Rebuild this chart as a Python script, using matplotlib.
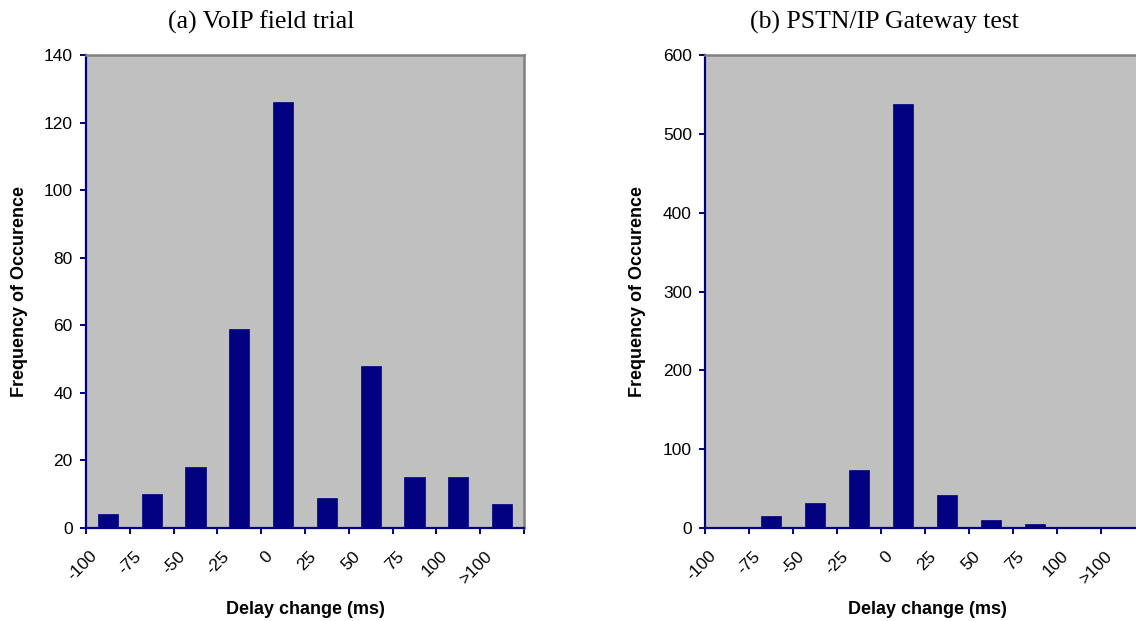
import matplotlib
matplotlib.use("Agg")
import matplotlib.pyplot as plt
import matplotlib.transforms as mtransforms
import numpy as np

# --------- DATA ----------
categories = ["-100", "-75", "-50", "-25", "0", "25", "50", "75", "100", ">100"]
voip_counts = [4, 10, 18, 59, 126, 9, 48, 15, 15, 7]
gateway_counts = [0, 15, 32, 73, 538, 42, 10, 5, 0, 0]
voip_yticks = [0, 20, 40, 60, 80, 100, 120, 140]
gateway_yticks = [0, 100, 200, 300, 400, 500, 600]

NAVY = "#000080"
GRAY_BG = "#C0C0C0"
W, H = 1136, 621

plt.rcParams["font.family"] = ["Liberation Sans", "DejaVu Sans"]

fig = plt.figure(figsize=(W / 100, H / 100), dpi=100)


def px_axes(x0, x1, y_top, y_bot):
    return fig.add_axes([x0 / W, (H - y_bot) / H, (x1 - x0) / W, (y_bot - y_top) / H])


def draw_panel(ax, counts, yticks):
    x = np.arange(len(counts)) + 0.5
    ax.bar(x, counts, width=0.46, color=NAVY, edgecolor=NAVY, linewidth=0.5, zorder=3)
    ax.set_facecolor(GRAY_BG)
    ax.set_xlim(0, len(counts))
    ax.set_ylim(yticks[0], yticks[-1])
    ax.set_yticks(yticks)
    ax.set_yticklabels([str(v) for v in yticks], fontsize=12.5)
    ax.set_xticks(np.arange(len(counts) + 1))
    ax.set_xticklabels(categories + [""], fontsize=12.5)
    for s in ["left", "bottom"]:
        ax.spines[s].set_color(NAVY)
        ax.spines[s].set_linewidth(1.6)
    for s in ["top", "right"]:
        ax.spines[s].set_color("#808080")
        ax.spines[s].set_linewidth(1.8)
    ax.tick_params(axis="both", direction="out", length=4.5, width=1.4, color=NAVY)
    ax.tick_params(axis="y", pad=5)
    ax.tick_params(axis="x", pad=14)
    offset = mtransforms.ScaledTranslation(6.5 / 72, 0, fig.dpi_scale_trans)
    for lab in ax.get_xticklabels():
        lab.set_rotation(45)
        lab.set_rotation_mode("anchor")
        lab.set_ha("right")
        lab.set_va("center")
        lab.set_transform(lab.get_transform() + offset)
    ax.set_xlabel("Delay change (ms)", fontsize=13, fontweight="bold")


# --------- LEFT PANEL ----------
ax1 = px_axes(86, 524, 55, 528)
draw_panel(ax1, voip_counts, voip_yticks)
ax1.xaxis.set_label_coords(305 / W - 86 / W, 0, transform=fig.transFigure)

# --------- RIGHT PANEL ----------
ax2 = px_axes(705, 1145, 55, 528)
draw_panel(ax2, gateway_counts, gateway_yticks)

# axis labels and titles placed in pixel coordinates
for ax, xc in [(ax1, 305), (ax2, 927)]:
    ax.xaxis.label.set_visible(False)
    fig.text(xc / W, 1 - 609 / H, "Delay change (ms)", fontsize=13, fontweight="bold",
             ha="center", va="center")

fig.text(20 / W, 1 - 291 / H, "Frequency of Occurence", fontsize=13, fontweight="bold",
         rotation=90, ha="center", va="center")
fig.text(638 / W, 1 - 291 / H, "Frequency of Occurence", fontsize=13, fontweight="bold",
         rotation=90, ha="center", va="center")

fig.text(261 / W, 1 - 22 / H, "(a) VoIP field trial", fontsize=18.5,
         family=["Liberation Serif", "DejaVu Serif"], ha="center", va="center")
fig.text(884 / W, 1 - 22 / H, "(b) PSTN/IP Gateway test", fontsize=18.5,
         family=["Liberation Serif", "DejaVu Serif"], ha="center", va="center")

fig.savefig("out.png", dpi=100)
